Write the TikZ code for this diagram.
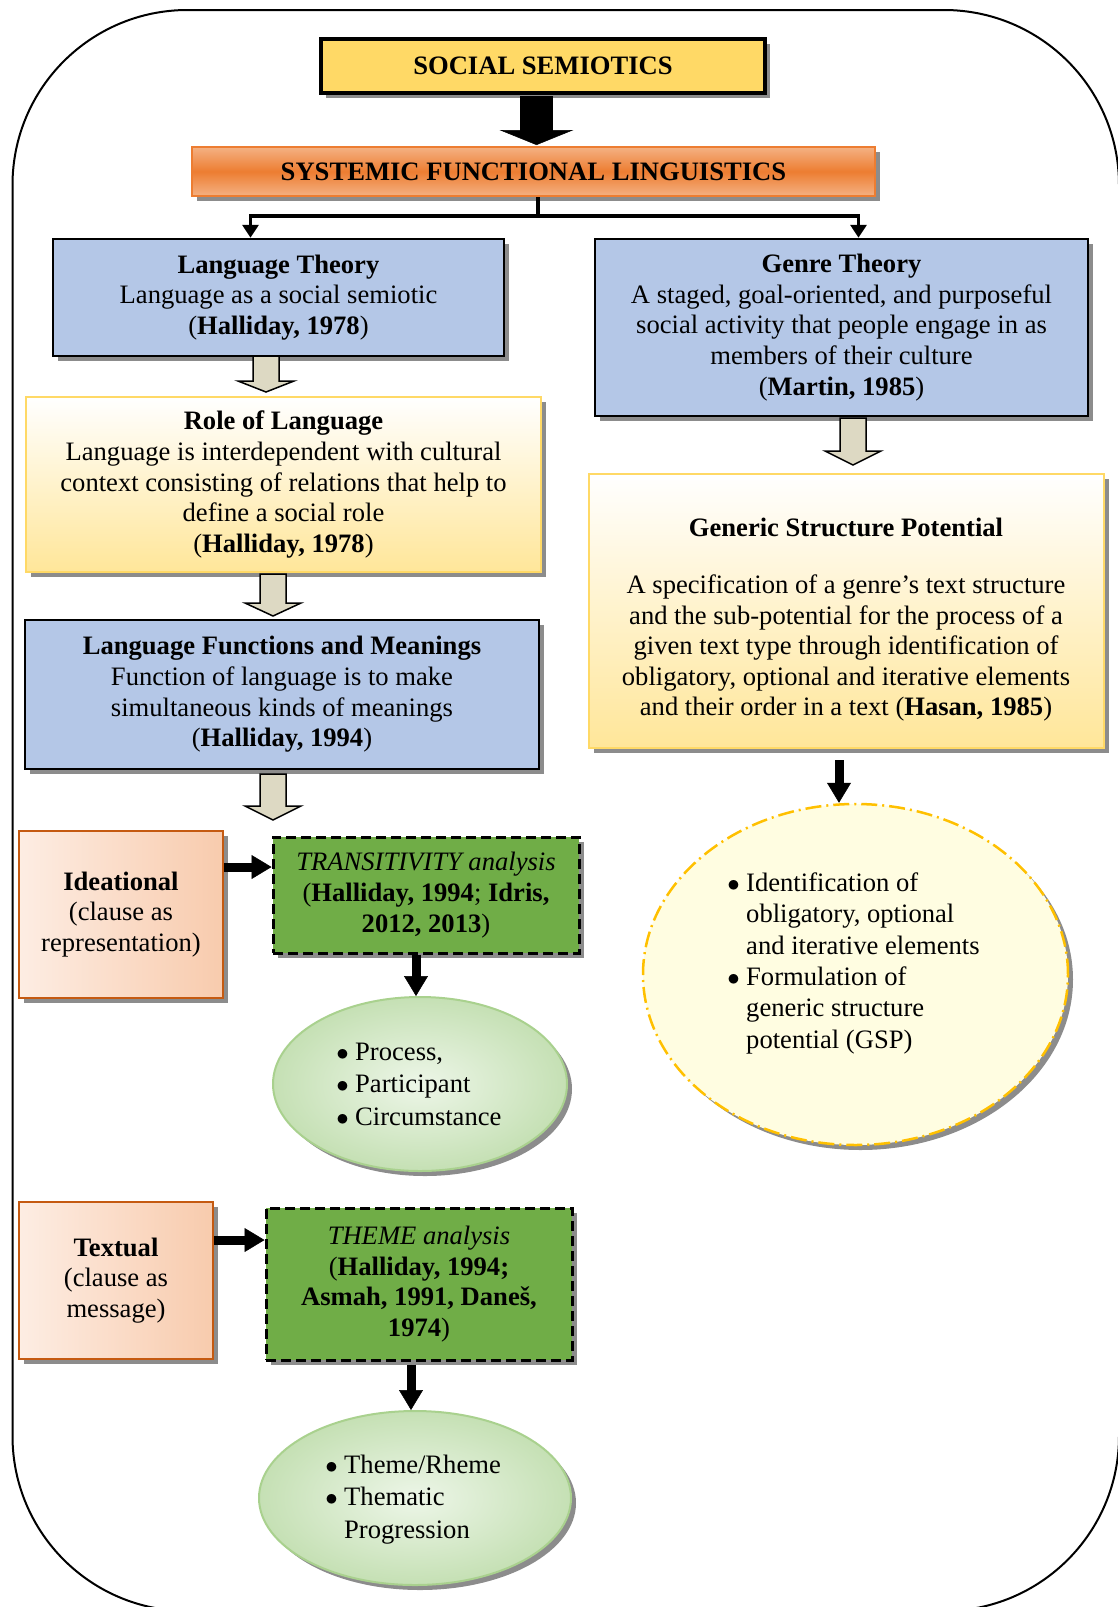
\documentclass[tikz,border=0pt]{standalone}
\usepackage{fontspec}
\setmainfont{Liberation Serif}
\usetikzlibrary{shapes.geometric,shadows,arrows.meta,calc}
\definecolor{ssyel}{HTML}{FFD966}
\definecolor{sflmid}{HTML}{ED7D31}
\definecolor{sfledge}{HTML}{F4B183}
\definecolor{ltblue}{HTML}{B4C7E7}
\definecolor{goldline}{HTML}{FFD966}
\definecolor{goldbot}{HTML}{FFE699}
\definecolor{tanfill}{HTML}{DDD9C3}
\definecolor{peachlight}{HTML}{FDEDE3}
\definecolor{peachdark}{HTML}{F8CBAD}
\definecolor{peachline}{HTML}{C55A11}
\definecolor{grbox}{HTML}{70AD47}
\definecolor{grlight}{HTML}{EDF6E8}
\definecolor{grdark}{HTML}{C5E0B4}
\definecolor{grline}{HTML}{A9D18E}
\definecolor{ellyel}{HTML}{FFFDE1}
\definecolor{ellline}{HTML}{FFC000}
\newcommand\harrow[4]{\draw[hollowarr] (#1-13,#2) -- (#1+13,#2) -- (#1+13,#3) -- (#1+28,#3) -- (#1,#4) -- (#1-28,#3) -- (#1-13,#3) -- cycle;}
\newcommand\bul{\makebox[9.3pt][c]{$\bullet$}}
\begin{document}
\begin{tikzpicture}[x=1pt,y=-1pt,
  base/.style={font=\fontsize{26.6pt}{30.6pt}\selectfont, align=center, inner sep=0pt},
  shad/.style={drop shadow={shadow xshift=5pt,shadow yshift=-5pt,opacity=0.45,fill=black}},
  ssbox/.style={base, rectangle, fill=ssyel, draw=black, line width=3.5pt, shad},
  sflbox/.style={base, rectangle, top color=sfledge, bottom color=sfledge, middle color=sflmid, draw=sflmid, line width=2pt, shad},
  bluebox/.style={base, rectangle, fill=ltblue, draw=black, line width=2.5pt, shad},
  goldbox/.style={base, rectangle, top color=white, bottom color=goldbot, draw=goldline, line width=2pt, shad},
  peachbox/.style={base, rectangle, left color=peachlight, right color=peachdark, draw=peachline, line width=2.5pt, shad},
  greenbox/.style={base, rectangle, fill=grbox, draw=black, line width=3pt, dash pattern=on 10pt off 5pt, shad},
  greenell/.style={ellipse, inner sep=0pt, inner color=grlight, outer color=grdark, draw=grline, line width=2pt, shad},
  yelell/.style={ellipse, inner sep=0pt, fill=ellyel, draw=ellline, line width=2.5pt, dash pattern=on 16pt off 5pt on 2pt off 5pt, shad},
  txt/.style={base},
  hollowarr/.style={fill=tanfill, draw=black, line width=1.5pt, line join=miter},
  thinconn/.style={line width=3.5pt},
  thinarr/.style={line width=3.5pt, -{Triangle[width=16pt,length=13pt]}},
]
\useasboundingbox (0,0) rectangle (1118,1607);
\clip (0,0) rectangle (1118,1607);
\fill[white] (0,0) rectangle (1118,1607);
% outer frame
\draw[line width=2pt, rounded corners=175pt] (12.5,10) rectangle (1119,1611);

% nodes
\node[ssbox, minimum width=444pt, minimum height=54pt] (ss) at (543,66) {\textbf{SOCIAL SEMIOTICS}};
\node[sflbox, minimum width=683pt, minimum height=49pt] (sfl) at (533.5,171.5) {\textbf{SYSTEMIC FUNCTIONAL LINGUISTICS}};
\node[bluebox, minimum width=451pt, minimum height=117pt] (lt) at (278.5,297.5) {\textbf{Language Theory}\\Language as a social semiotic\\(\textbf{Halliday, 1978})};
\node[bluebox, minimum width=493pt, minimum height=177pt] (gt) at (841.5,327.5) {\textbf{Genre Theory}\\A staged, goal-oriented, and purposeful\\social activity that people engage in as\\members of their culture\\(\textbf{Martin, 1985})};
\node[goldbox, minimum width=515pt, minimum height=175pt] (role) at (283.5,484.5) {\textbf{Role of Language}\\Language is interdependent with cultural\\context consisting of relations that help to\\define a social role\\(\textbf{Halliday, 1978})};
\node[bluebox, minimum width=514pt, minimum height=149pt] (lfm) at (282,694.5) {\textbf{Language Functions and Meanings}\\Function of language is to make\\simultaneous kinds of meanings\\(\textbf{Halliday, 1994})};
\node[goldbox, minimum width=515pt, minimum height=274pt] (gsp) at (846.5,611) {};
\node[txt] (gsptxt) at (846,620) {\textbf{Generic Structure Potential}\\[26pt]A specification of a genre’s text structure\\and the sub-potential for the process of a\\given text type through identification of\\obligatory, optional and iterative elements\\and their order in a text (\textbf{Hasan, 1985})};
\node[peachbox, minimum width=204pt, minimum height=167pt] (ide) at (121,914.5) {\textbf{Ideational}\\(clause as\\representation)};
\node[greenbox, minimum width=306pt, minimum height=116pt] (trans) at (426,895) {\textit{TRANSITIVITY analysis}\\(\textbf{Halliday, 1994}; \textbf{Idris,}\\\textbf{2012, 2013})};
\node[yelell, minimum width=425pt, minimum height=341pt] (gspell) at (855.5,974.5) {};
\node[txt, anchor=west, align=left, font=\fontsize{26.6pt}{31.4pt}\selectfont] (gsplist) at (728.7,963.5) {\begin{tabular}{@{}l@{\hspace{8pt}}l@{}}\bul & Identification of\\ & obligatory, optional\\ & and iterative elements\\ \bul & Formulation of\\ & generic structure\\ & potential (GSP)\end{tabular}};
\node[greenell, minimum width=294pt, minimum height=174pt] (proc) at (420,1084) {};
\node[txt, anchor=west, align=left, font=\fontsize{26.6pt}{32.5pt}\selectfont] (proclist) at (337.7,1086) {\begin{tabular}{@{}l@{\hspace{8pt}}l@{}}\bul & Process,\\ \bul & Participant\\ \bul & Circumstance\end{tabular}};
\node[peachbox, minimum width=194pt, minimum height=157pt] (textual) at (116,1280.5) {\textbf{Textual}\\(clause as\\message)};
\node[greenbox, minimum width=306pt, minimum height=152pt] (theme) at (419,1284) {\textit{THEME analysis}\\(\textbf{Halliday, 1994;}\\\textbf{Asmah, 1991, Daneš,}\\\textbf{1974})};
\node[greenell, minimum width=312pt, minimum height=174pt] (themeell) at (415,1498) {};
\node[txt, anchor=west, align=left, font=\fontsize{26.6pt}{32.5pt}\selectfont] (themelist) at (326.7,1499) {\begin{tabular}{@{}l@{\hspace{8pt}}l@{}}\bul & Theme/Rheme\\ \bul & Thematic\\ & Progression\end{tabular}};

% big arrow SS -> SFL
\coordinate (bigs) at ($(sfl.north)+(3,-50)$);
\coordinate (bige) at ($(sfl.north)+(3,-1)$);
\draw[line width=33pt, shorten >=13pt] (bigs) -- (bige);
\draw[line width=0.5pt, -{Triangle[width=74pt,length=15pt]}] (bigs) -- (bige);

% SFL branches
\coordinate (j) at ($(sfl.south)+(4.5,19)$);
\draw[thinconn] ($(sfl.south)+(4.5,0)$) -- (j);
\draw[thinarr] (j) -| ([xshift=-28pt]lt.north);
\draw[thinarr] (j) -| ([xshift=17pt]gt.north);

% hollow arrows
\harrow{266}{356}{381}{392}
\harrow{273}{574}{603}{616}
\harrow{273}{774}{806}{820}
\harrow{853}{418}{451}{465}

% GSP -> ellipse
\coordinate (gb) at ($(gsp.south)+(-7.5,11)$);
\draw[line width=9pt, shorten >=18pt] (gb) -- (gb |- gspell.north);
\draw[line width=0.5pt, -{Triangle[width=24pt,length=20pt]}] (gb) -- (gb |- gspell.north);

% Ideational -> TRANSITIVITY
\coordinate (ia) at ($(ide.east)+(0,-47.5)$);
\draw[line width=9pt, shorten >=18pt] (ia) -- (ia -| trans.west);
\draw[line width=0.5pt, -{Triangle[width=24pt,length=20pt]}] (ia) -- (ia -| trans.west);

% TRANSITIVITY -> process ellipse
\coordinate (tb) at ($(trans.south)+(-10,0)$);
\draw[line width=9pt, shorten >=18pt] (tb) -- (tb |- proc.north);
\draw[line width=0.5pt, -{Triangle[width=24pt,length=20pt]}] (tb) -- (tb |- proc.north);

% Textual -> THEME
\coordinate (xa) at ($(textual.east)+(0,-40.5)$);
\draw[line width=9pt, shorten >=18pt] (xa) -- (xa -| theme.west);
\draw[line width=0.5pt, -{Triangle[width=24pt,length=20pt]}] (xa) -- (xa -| theme.west);

% THEME -> theme ellipse
\coordinate (thb) at ($(theme.south)+(-8,3)$);
\draw[line width=9pt, shorten >=18pt] (thb) -- (thb |- themeell.north);
\draw[line width=0.5pt, -{Triangle[width=24pt,length=20pt]}] (thb) -- (thb |- themeell.north);
\end{tikzpicture}
\end{document}
